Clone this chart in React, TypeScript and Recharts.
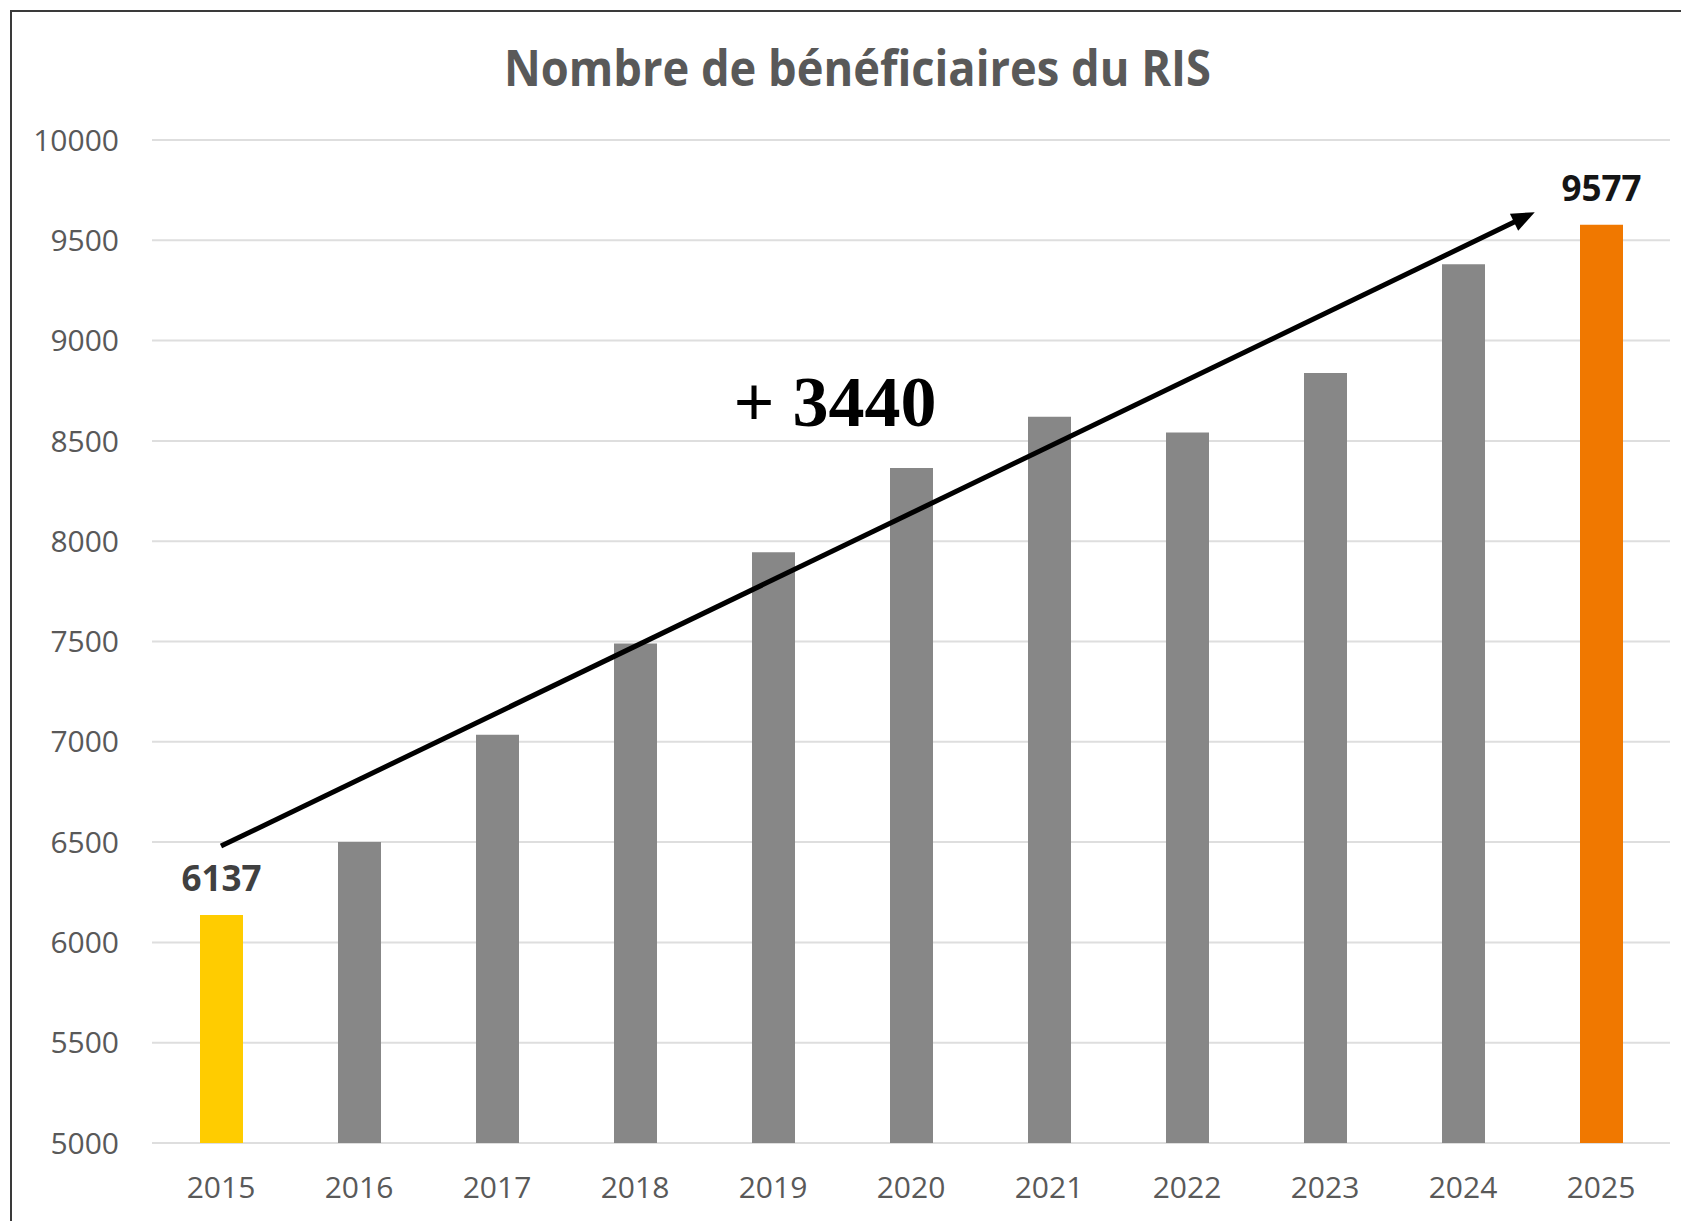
import {
  Bar,
  BarChart,
  CartesianGrid,
  Cell,
  LabelList,
  ReferenceDot,
  ReferenceLine,
  XAxis,
  YAxis,
} from "recharts";

const YEARS = ["2015", "2016", "2017", "2018", "2019", "2020", "2021", "2022", "2023", "2024", "2025"];
const BENEFICIAIRES = [6137, 6500, 7035, 7490, 7945, 8365, 8620, 8542, 8838, 9380, 9577];
const Y_TICKS = [5000, 5500, 6000, 6500, 7000, 7500, 8000, 8500, 9000, 9500, 10000];
const X_TICKS = YEARS.map((_, i) => i);

// trend arrow + annotation, in data units (index on x, count on y)
const TREND_START = { x: 0, y: 6480 };
const TREND_END = { x: 9.52, y: 9640 };
const TREND_TEXT = "+ 3440";
const TREND_TEXT_AT = { x: 4.45, y: 8700 };

const TITLE = "Nombre de bénéficiaires du RIS";

const GREY = "#878787";
const YELLOW = "#FFCC00";
const ORANGE = "#F07800";
const AXIS_TEXT = "#595959";
const GRID = "#DEDEDE";

const chartData = YEARS.map((year, i) => ({ idx: i, year, value: BENEFICIAIRES[i] }));
const last = BENEFICIAIRES.length - 1;

function barColor(i: number) {
  if (i === 0) return YELLOW;
  if (i === last) return ORANGE;
  return GREY;
}

function TrendArrow(props: any) {
  const { x1, y1, x2, y2 } = props;
  const ang = Math.atan2(y2 - y1, x2 - x1);
  const len = 23;
  const half = 9.5;
  const cos = Math.cos(ang);
  const sin = Math.sin(ang);
  const bx = x2 - len * cos;
  const by = y2 - len * sin;
  const px = -sin * half;
  const py = cos * half;
  return (
    <g>
      <line x1={x1} y1={y1} x2={bx + 2 * cos} y2={by + 2 * sin} stroke="#000" strokeWidth={5} />
      <polygon points={`${x2},${y2} ${bx + px},${by + py} ${bx - px},${by - py}`} fill="#000" />
    </g>
  );
}

function EndLabel(props: any) {
  const { x, y, width, index, value } = props;
  if (index !== 0 && index !== last) return null;
  return (
    <text
      x={Number(x) + Number(width) / 2}
      y={Number(y) - 24}
      textAnchor="middle"
      fontFamily="Open Sans"
      fontWeight={700}
      fontSize={35}
      fill={index === 0 ? "#404040" : "#151515"}
    >
      {value}
    </text>
  );
}

function TrendText(props: any) {
  const { viewBox } = props;
  const cx = viewBox.x + viewBox.width / 2;
  const cy = viewBox.y + viewBox.height / 2;
  return (
    <text
      x={cx}
      y={cy + 25}
      textAnchor="middle"
      fontFamily="Liberation Serif"
      fontWeight={700}
      fontSize={72}
      fill="#000"
    >
      {TREND_TEXT}
    </text>
  );
}

export default function App() {
  return (
    <div
      style={{
        position: "absolute",
        left: 0,
        top: 0,
        width: 1681,
        height: 1221,
        background: "#fff",
        overflow: "hidden",
      }}
    >
      <div
        style={{
          position: "absolute",
          left: 10,
          top: 10,
          width: 1680,
          height: 1220,
          borderLeft: "2px solid #3a3a3a",
          borderTop: "2px solid #3a3a3a",
        }}
      />
      <svg width={1681} height={120} style={{ position: "absolute", left: 0, top: 0 }}>
        <text
          x={504}
          y={86}
          textLength={707}
          lengthAdjust="spacingAndGlyphs"
          fontFamily="Open Sans"
          fontWeight={700}
          fontSize={50}
          fill={AXIS_TEXT}
        >
          {TITLE}
        </text>
      </svg>
      <div style={{ position: "absolute", left: 0, top: 0 }}>
        <BarChart
          width={1681}
          height={1221}
          data={chartData}
          margin={{ top: 140, right: 11, left: 32, bottom: 18 }}
        >
          <CartesianGrid stroke={GRID} strokeWidth={2} vertical={false} />
          <XAxis
            dataKey="idx"
            type="number"
            domain={[-0.5, 10.5]}
            ticks={X_TICKS}
            tickFormatter={(i) => YEARS[Number(i)] ?? ""}
            axisLine={false}
            tickLine={false}
            tickSize={0}
            tickMargin={34}
            height={60}
            interval={0}
            tick={{ fontSize: 30, fill: AXIS_TEXT, fontFamily: "Open Sans" }}
          />
          <YAxis
            domain={[5000, 10000]}
            ticks={Y_TICKS}
            axisLine={false}
            tickLine={false}
            tickSize={0}
            tickMargin={33}
            width={120}
            interval={0}
            tick={{ fontSize: 30, fill: AXIS_TEXT, fontFamily: "Open Sans" }}
          />
          <Bar dataKey="value" barSize={43} isAnimationActive={false}>
            {chartData.map((d, i) => (
              <Cell key={d.year} fill={barColor(i)} />
            ))}
            <LabelList dataKey="value" content={EndLabel} />
          </Bar>
          <ReferenceLine
            segment={[TREND_START, TREND_END]}
            stroke="#000"
            strokeWidth={5}
            shape={TrendArrow}
          />
          <ReferenceDot
            x={TREND_TEXT_AT.x}
            y={TREND_TEXT_AT.y}
            r={0}
            fill="none"
            stroke="none"
            label={<TrendText />}
          />
        </BarChart>
      </div>
    </div>
  );
}
